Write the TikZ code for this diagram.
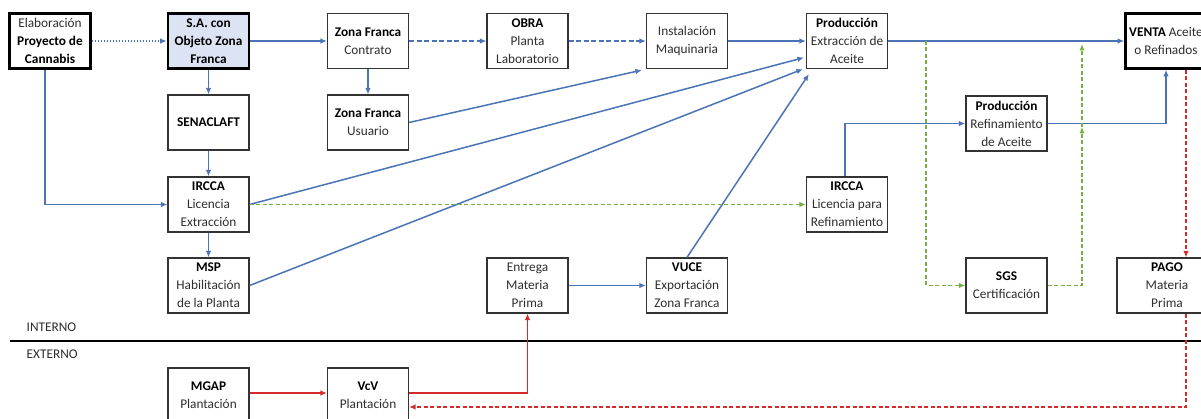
\documentclass[tikz,border=0pt]{standalone}
\usepackage{fontspec}
\setmainfont{Carlito}
\usetikzlibrary{arrows.meta}
\definecolor{cblue}{HTML}{4A74B5}
\definecolor{cgreen}{HTML}{74B045}
\definecolor{cred}{HTML}{D42A2A}
\definecolor{cfill}{HTML}{DCE3F2}
\definecolor{ctext}{HTML}{2E2E2E}
\newcommand\hdr[1]{\textbf{\color{black}#1}}
\begin{document}
\begin{tikzpicture}[x=1pt,y=-1pt,
  box/.style={draw=black!80, line width=1.2pt, minimum width=81pt, minimum height=55pt,
    align=center, inner sep=0pt, text=ctext, font=\fontsize{13.3}{18}\selectfont},
  bigbox/.style={box, draw=black, line width=2.6pt},
  lbl/.style={anchor=west, inner sep=0pt, text=ctext, font=\fontsize{13.3}{18}\selectfont},
  tipb/.style={-{Latex[length=6.5pt,width=5.5pt]}},
  bl/.style={draw=cblue, line width=1.5pt, tipb},
  bldot/.style={bl, line width=1.3pt, dash pattern=on 1.5pt off 1.5pt},
  bldash/.style={bl, line width=1.4pt, dash pattern=on 5pt off 2.5pt},
  gr/.style={draw=cgreen, line width=1.3pt, dash pattern=on 4pt off 2.5pt, tipb},
  rd/.style={draw=cred, line width=1.7pt, tipb},
  rdd/.style={draw=cred, line width=1.4pt, dash pattern=on 4pt off 2.5pt, tipb}]
\clip (0,0) rectangle (1201,419);
\fill[white] (0,0) rectangle (1201,419);

% nodes
\node[bigbox] (elab) at (50,41) {Elaboración\\\hdr{Proyecto de}\\\hdr{Cannabis}};
\node[bigbox, fill=cfill] (sa) at (208.5,41) {\hdr{S.A. con}\\\hdr{Objeto Zona}\\\hdr{Franca}};
\node[box] (zfc) at (368,41) {\hdr{Zona Franca}\\Contrato};
\node[box] (obra) at (527.5,41) {\hdr{OBRA}\\Planta\\Laboratorio};
\node[box] (inst) at (687,41) {Instalación\\Maquinaria};
\node[box] (prod) at (847,41) {\hdr{Producción}\\Extracción de\\Aceite};
\node[bigbox] (venta) at (1166,41) {\hdr{VENTA} Aceite\\o Refinados};
\node[box] (sena) at (208.5,122.5) {\hdr{SENACLAFT}};
\node[box] (zfu) at (368,122.5) {\hdr{Zona Franca}\\Usuario};
\node[box] (pref) at (1006.5,123.5) {\hdr{Producción}\\Refinamiento\\de Aceite};
\node[box] (irccae) at (208.5,204.5) {\hdr{IRCCA}\\Licencia\\Extracción};
\node[box] (irccar) at (847,204.5) {\hdr{IRCCA}\\Licencia para\\Refinamiento};
\node[box] (msp) at (208.5,285.5) {\hdr{MSP}\\Habilitación\\de la Planta};
\node[box] (entrega) at (527.5,285.5) {Entrega\\Materia\\Prima};
\node[box] (vuce) at (687,285.5) {\hdr{VUCE}\\Exportación\\Zona Franca};
\node[box] (sgs) at (1006.5,285.5) {\hdr{SGS}\\Certificación};
\node[box, minimum width=100pt] (pago) at (1167,285.5) {\hdr{PAGO}\\Materia\\Prima};
\node[box] (mgap) at (208.5,395.5) {\hdr{MGAP}\\Plantación};
\node[box] (vcv) at (368,395.5) {\hdr{VcV}\\Plantación};

% separator
\coordinate (sepL) at (10,341);
\coordinate (sepR) at (1215,341);
\draw[line width=2.4pt] (sepL) -- (sepR);
\node[lbl] (interno) at (26.5,327) {INTERNO};
\node[lbl] (externo) at (26.5,354) {EXTERNO};

% blue connectors
\draw[bldot] (elab) -- (sa);
\draw[bl] (sa) -- (zfc);
\draw[bl] (sa) -- (sena);
\draw[bl] (sena) -- (irccae);
\draw[bl] (irccae) -- (msp);
\draw[bl] (zfc) -- (zfu);
\draw[bldash] (zfc) -- (obra);
\draw[bldash] (obra) -- (inst);
\draw[bl] (inst) -- (prod);
\draw[bl] (prod) -- (venta);
\draw[bl] ([xshift=-5pt]elab.south) |- (irccae.west);
\draw[bl] (zfu.east) -- ([xshift=-4pt,yshift=-1pt]inst.south west);
\draw[bl] (irccae.east) -- ([xshift=-2pt,yshift=11.5pt]prod.south west);
\draw[bl] (msp.east) -- ([xshift=-3pt,yshift=0pt]prod.south west);
\draw[bl] (vuce.north) -- ([xshift=3pt,yshift=-5pt]prod.south west);
\draw[bl] (entrega) -- (vuce);
\draw[bl] ([xshift=-2pt]irccar.north) |- (pref.west);
\draw[bl] (pref.east) -| (venta.south);

% green connectors
\coordinate (g1) at (926,41);
\coordinate (g2) at (1082,127);
\coordinate (g3) at (1082,44);
\draw[gr] (irccae.east) -- (irccar.west);
\draw[gr] (g1) |- (sgs.west);
\draw[gr] (sgs.east) -| (g2);
\draw[gr] (g2) -- (g3);

% red connectors
\coordinate (vr) at ([xshift=20pt]venta.south);
\draw[rd] ([yshift=2.5pt]mgap.east) -- ([yshift=2.5pt]vcv.west);
\draw[rd] ([yshift=2.5pt]vcv.east) -| (entrega.south);
\draw[rdd] (vr) -- (vr |- pago.north);
\draw[rdd] ([xshift=19pt]pago.south) |- ([yshift=-11.5pt]vcv.east);
\end{tikzpicture}
\end{document}
